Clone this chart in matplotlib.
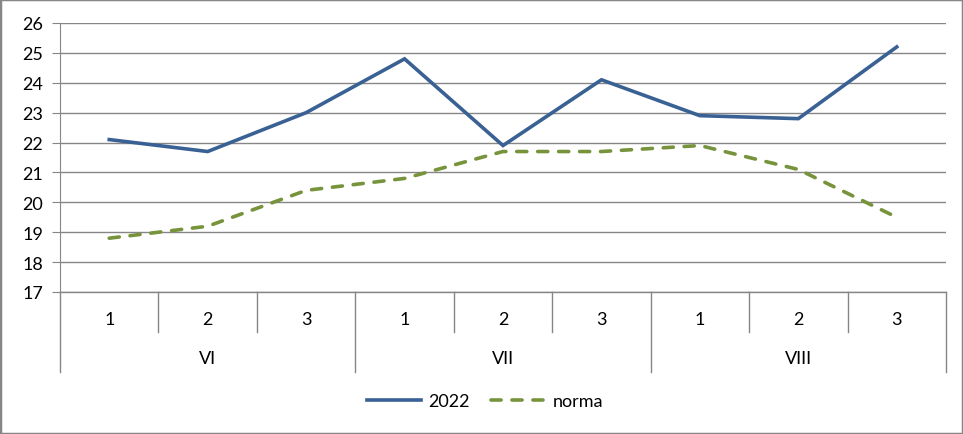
import matplotlib.pyplot as plt
from matplotlib.patches import Rectangle
from matplotlib.lines import Line2D

plt.rcParams['font.family'] = ['Lato', 'DejaVu Sans']

# Data
decades = ['1', '2', '3', '1', '2', '3', '1', '2', '3']
months = ['VI', 'VII', 'VIII']
y2022 = [22.1, 21.7, 23.0, 24.8, 21.9, 24.1, 22.9, 22.8, 25.2]
norma = [18.8, 19.2, 20.4, 20.8, 21.7, 21.7, 21.9, 21.1, 19.5]

blue = '#3A6194'
green = '#77933C'
grid = '#868686'
fs = 13

fig = plt.figure(figsize=(9.63, 4.35), dpi=100)
ax = fig.add_axes([60 / 963, 1 - 293 / 435, 886 / 963, 269 / 435])

x = list(range(len(decades)))
ax.plot(x, y2022, color=blue, lw=2.6, solid_joinstyle='miter', label='2022', zorder=3)
ax.plot(x, norma, color=green, lw=2.6, dashes=(2.8, 3), dash_capstyle='round',
        label='norma', zorder=3)

ax.set_xlim(-0.5, len(decades) - 0.5)
ax.set_ylim(17, 26)
ax.set_yticks(range(17, 27))
ax.yaxis.grid(True, color=grid, lw=1)
ax.set_axisbelow(True)
for s in ['top', 'right', 'bottom']:
    ax.spines[s].set_visible(False)
ax.spines['left'].set_color(grid)
ax.tick_params(axis='y', length=6, color=grid, labelsize=fs, pad=6)
ax.set_xticks([])

# multi-level category axis
trans = ax.get_xaxis_transform()
ax.plot([-0.5, len(decades) - 0.5], [0, 0], color=grid, lw=1, transform=trans, clip_on=False)
inner_depth = 40 / 269
outer_depth = 80 / 269
for i, lab in enumerate(decades):
    ax.text(i, -27 / 269, lab, transform=trans, ha='center', va='center', fontsize=fs)
    if i > 0 and i % 3 != 0:
        ax.plot([i - 0.5, i - 0.5], [0, -inner_depth], color=grid, lw=1,
                transform=trans, clip_on=False)
for g in range(len(months) + 1):
    ax.plot([g * 3 - 0.5, g * 3 - 0.5], [0, -outer_depth], color=grid, lw=1,
            transform=trans, clip_on=False)
for g, m in enumerate(months):
    ax.text(g * 3 + 1, -66 / 269, m, transform=trans, ha='center', va='center', fontsize=fs)

# legend
handles = [Line2D([], [], color=blue, lw=2.6),
           Line2D([], [], color=green, lw=2.6, dashes=(2.8, 3), dash_capstyle='round')]
fig.legend(handles, ['2022', 'norma'], loc='center', bbox_to_anchor=(485 / 963, 1 - 402 / 435),
           ncol=2, frameon=False, fontsize=fs, handlelength=3.0, handletextpad=0.4,
           columnspacing=1.2)

# chart border
fig.patches.append(Rectangle((0, 0), 1, 1, transform=fig.transFigure, fill=False,
                             edgecolor=grid, lw=2.5))

fig.savefig('out.png', dpi=100)
